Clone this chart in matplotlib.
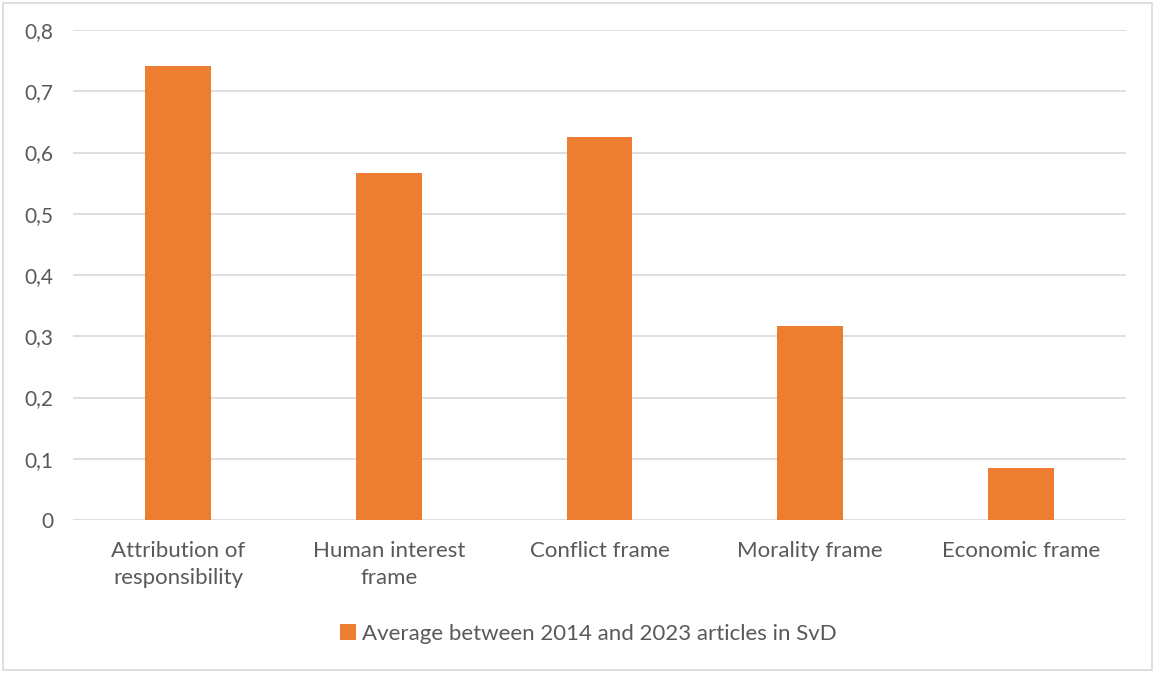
import numpy as np
import matplotlib.pyplot as plt
from matplotlib.patches import Rectangle

# medias por tipo de encuadre
categorias = ['Attribution of\nresponsibility', 'Human interest\nframe',
              'Conflict frame', 'Morality frame', 'Economic frame']
valores = [0.741, 0.566, 0.625, 0.317, 0.085]
serie = 'Average between 2014 and 2023 articles in SvD'
yticks = [0, 0.1, 0.2, 0.3, 0.4, 0.5, 0.6, 0.7, 0.8]
ytick_labels = ['0', '0,1', '0,2', '0,3', '0,4', '0,5', '0,6', '0,7', '0,8']

naranja = '#ED7D31'
gris_txt = '#595959'
plt.rcParams['font.family'] = ['Lato', 'DejaVu Sans']

W, H = 1155, 673
fig = plt.figure(figsize=(W/100, H/100), dpi=100)
ax = fig.add_axes([73/W, 1-520/H, (1126-73)/W, (520-30)/H])

x = np.arange(len(categorias))
ax.bar(x, valores, width=0.313, color=naranja, label=serie, zorder=3)

ax.set_xlim(-0.5, len(categorias)-0.5)
ax.set_ylim(0, 0.8)
ax.set_yticks(yticks)
ax.set_yticklabels(ytick_labels)
ax.set_xticks(x)
ax.set_xticklabels(categorias, linespacing=1.45)
ax.grid(axis='y', color='#D9D9D9', linewidth=1.2, zorder=0)
ax.tick_params(length=0, labelsize=16, labelcolor=gris_txt)
ax.tick_params(axis='x', pad=15)
ax.tick_params(axis='y', pad=14, labelsize=15)
for s in ax.spines.values():
    s.set_visible(False)

leg = fig.legend(loc='center', bbox_to_anchor=(588/W, 1-634/H), frameon=False,
                 fontsize=16, handlelength=0.75, handleheight=0.75,
                 handletextpad=0.25, labelcolor=gris_txt)

# borde del grafico
fig.patches.append(Rectangle((3/W, 3/H), 1-6/W, 1-6/H, transform=fig.transFigure,
                             fill=False, edgecolor='#D9D9D9', linewidth=1.2))

fig.savefig('out.png', dpi=100)
